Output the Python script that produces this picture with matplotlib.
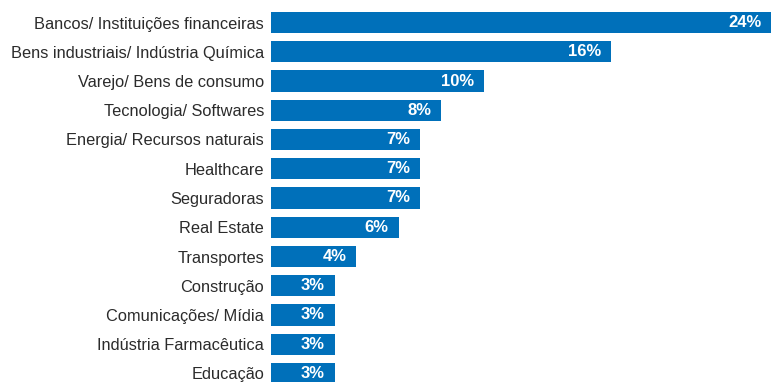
import matplotlib
matplotlib.use("Agg")
import matplotlib.pyplot as plt

# setores e participação (%)
setores = ["Bancos/ Instituições financeiras", "Bens industriais/ Indústria Química",
           "Varejo/ Bens de consumo", "Tecnologia/ Softwares", "Energia/ Recursos naturais",
           "Healthcare", "Seguradoras", "Real Estate", "Transportes", "Construção",
           "Comunicações/ Mídia", "Indústria Farmacêutica", "Educação"]
valores = [24, 16, 10, 8, 7, 7, 7, 6, 4, 3, 3, 3, 3]
rotulos = ["24%", "16%", "10%", "8%", "7%", "7%", "7%", "6%", "4%", "3%", "3%", "3%", "3%"]

azul = "#0070BA"
W, H = 771, 382

plt.rcParams["font.family"] = ["Liberation Sans", "DejaVu Sans"]

fig = plt.figure(figsize=(W / 100, H / 100), dpi=100)
ax = fig.add_axes([271 / W, 0, 500 / W, 1])

y = list(range(len(setores)))
ax.barh(y, valores, height=0.73, color=azul)

passo = 29.25
ax.set_ylim(12 + (H - 373.5) / passo, -22.5 / passo)
ax.set_xlim(0, 500 / 21.25)

ax.set_yticks(y)
ax.set_yticklabels(setores, fontsize=11.8, color="#2b2b2b")
ax.tick_params(axis="y", length=0, pad=5)
ax.set_xticks([])
for s in ax.spines.values():
    s.set_visible(False)

for i, (v, r) in enumerate(zip(valores, rotulos)):
    ax.annotate(r, (min(v, 500 / 21.25), i), xytext=(-7, 0), textcoords="offset points",
                ha="right", va="center", color="white", fontsize=12, fontweight="bold",
                annotation_clip=False)

fig.savefig("out.png", dpi=100)
